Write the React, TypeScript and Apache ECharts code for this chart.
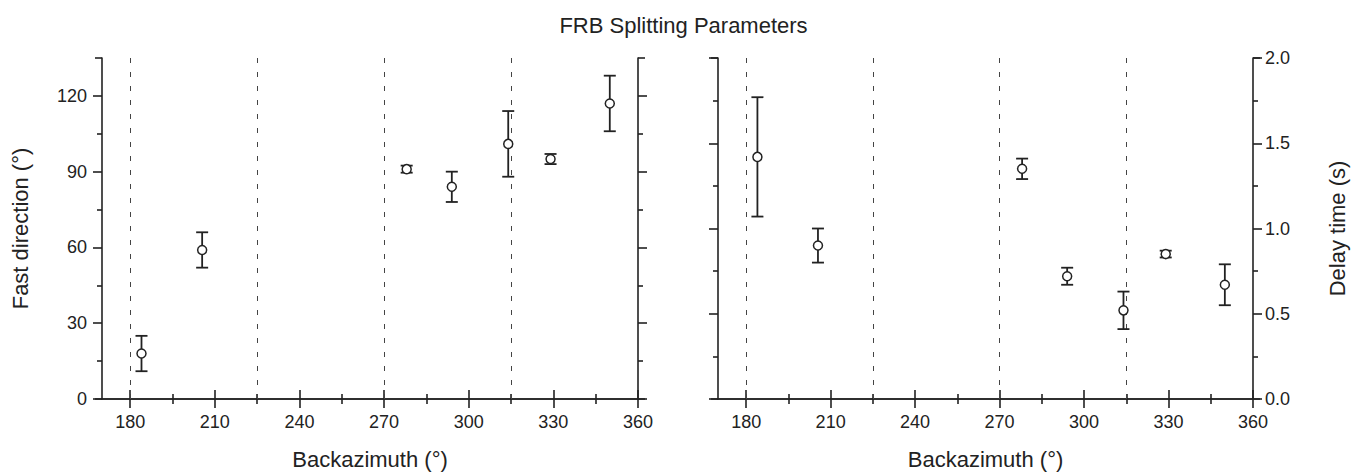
import React, { useEffect, useRef } from "react";
import * as echarts from "echarts";

// ---- data ----
const backazimuth = [184, 205.5, 278, 294, 314, 329, 350];
const fastDirection = [18, 59, 91, 84, 101, 95, 117];
const fastDirectionLow = [11, 52, 89.6, 78, 88, 93, 106];
const fastDirectionHigh = [25, 66, 92.4, 90, 114, 97, 128];
const delayTime = [1.42, 0.9, 1.35, 0.72, 0.52, 0.85, 0.67];
const delayTimeLow = [1.07, 0.8, 1.29, 0.67, 0.41, 0.83, 0.55];
const delayTimeHigh = [1.77, 1.0, 1.41, 0.77, 0.63, 0.87, 0.79];
const referenceAzimuths = [180, 225, 270, 315];
const xMajorTicks = [180, 210, 240, 270, 300, 330, 360];
const xMinorTicks = [195, 225, 255, 285, 315, 345];
const fastMajorTicks = [0, 30, 60, 90, 120];
const fastMinorTicks = [15, 45, 75, 105];
const delayMajorTicks = [0, 0.5, 1.0, 1.5, 2.0];
const delayMinorTicks = [0.25, 0.75, 1.25, 1.75];

// ---- layout ----
const W = 1367;
const H = 475;
const TOP = 58;
const GH = 341;
const GRIDS = [
  { left: 102, width: 536 },
  { left: 718, width: 535 },
];
const FONT = "'Liberation Sans', Arial, Helvetica, sans-serif";
const INK = "#222";
const LW = 1.6;
const MAJOR = 9;
const MINOR = 5;
const OVERHANG = 7;

function xAxesFor(gridIndex: number) {
  const base = {
    type: "value",
    gridIndex,
    min: 170,
    max: 360,
    splitLine: { show: false },
  };
  return [
    {
      ...base,
      position: "bottom",
      axisLine: { show: true, lineStyle: { color: INK, width: LW } },
      axisTick: { show: true, customValues: xMajorTicks, length: MAJOR, lineStyle: { color: INK, width: LW } },
      axisLabel: { show: true, customValues: xMajorTicks, fontSize: 18, color: INK, fontFamily: FONT, margin: 14 },
      name: "Backazimuth (°)",
      nameLocation: "middle",
      nameGap: 49,
      nameTextStyle: { fontSize: 22, color: INK, fontFamily: FONT },
    },
    {
      ...base,
      position: "bottom",
      axisLine: { show: false },
      axisTick: { show: true, customValues: xMinorTicks, length: MINOR, lineStyle: { color: INK, width: LW } },
      axisLabel: { show: false },
    },
    {
      ...base,
      position: "top",
      axisLine: { show: true, lineStyle: { color: INK, width: LW } },
      axisTick: { show: true, customValues: xMajorTicks, length: MAJOR, lineStyle: { color: INK, width: LW } },
      axisLabel: { show: false },
    },
    {
      ...base,
      position: "top",
      axisLine: { show: false },
      axisTick: { show: true, customValues: xMinorTicks, length: MINOR, lineStyle: { color: INK, width: LW } },
      axisLabel: { show: false },
    },
  ];
}

function yAxesFor(
  gridIndex: number,
  max: number,
  major: number[],
  minor: number[],
  labelSide: "left" | "right",
  name: string,
  fmt: (v: number) => string,
) {
  const base = {
    type: "value",
    gridIndex,
    min: 0,
    max,
    splitLine: { show: false },
  };
  const sides: ("left" | "right")[] = ["left", "right"];
  const out: any[] = [];
  sides.forEach((side) => {
    const labelled = side === labelSide;
    out.push({
      ...base,
      position: side,
      axisLine: { show: true, lineStyle: { color: INK, width: LW } },
      axisTick: { show: true, customValues: major, length: MAJOR, lineStyle: { color: INK, width: LW } },
      axisLabel: labelled
        ? {
            show: true,
            customValues: major,
            fontSize: 18,
            color: INK,
            fontFamily: FONT,
            margin: side === "left" ? 15 : 12,
            formatter: (v: number) => fmt(v),
          }
        : { show: false },
      ...(labelled
        ? {
            name,
            nameLocation: "middle",
            nameGap: side === "left" ? 71 : 73,
            nameTextStyle: { fontSize: 22, color: INK, fontFamily: FONT },
          }
        : {}),
    });
    out.push({
      ...base,
      position: side,
      axisLine: { show: false },
      axisTick: { show: true, customValues: minor, length: MINOR, lineStyle: { color: INK, width: LW } },
      axisLabel: { show: false },
    });
  });
  return out;
}

function errorBarSeries(xAxisIndex: number, yAxisIndex: number, lows: number[], highs: number[]) {
  return {
    type: "custom",
    xAxisIndex,
    yAxisIndex,
    z: 3,
    data: backazimuth.map((x, i) => [x, lows[i], highs[i]]),
    encode: { x: 0, y: [1, 2] },
    renderItem: (_params: any, api: any) => {
      const x = api.value(0);
      const lo = api.coord([x, api.value(1)]);
      const hi = api.coord([x, api.value(2)]);
      const hw = 6;
      const style = { stroke: INK, lineWidth: 1.8 };
      return {
        type: "group",
        children: [
          { type: "line", shape: { x1: lo[0], y1: lo[1], x2: hi[0], y2: hi[1] }, style },
          { type: "line", shape: { x1: lo[0] - hw, y1: lo[1], x2: lo[0] + hw, y2: lo[1] }, style },
          { type: "line", shape: { x1: hi[0] - hw, y1: hi[1], x2: hi[0] + hw, y2: hi[1] }, style },
        ],
      };
    },
  };
}

function pointSeries(xAxisIndex: number, yAxisIndex: number, values: number[]) {
  return {
    type: "scatter",
    xAxisIndex,
    yAxisIndex,
    z: 4,
    symbol: "circle",
    symbolSize: 9,
    itemStyle: { color: "#fff", borderColor: INK, borderWidth: 1.5, opacity: 1 },
    data: backazimuth.map((x, i) => [x, values[i]]),
    markLine: {
      silent: true,
      symbol: ["none", "none"],
      label: { show: false },
      z: 1,
      lineStyle: { color: "#444", width: 1, type: [5, 9] },
      data: referenceAzimuths.map((v) => ({ xAxis: v })),
    },
  };
}

function frameOverhangs() {
  const lines: any[] = [];
  GRIDS.forEach((g) => {
    [TOP, TOP + GH].forEach((y) => {
      lines.push({
        type: "line",
        shape: { x1: g.left - OVERHANG, y1: y, x2: g.left, y2: y },
        style: { stroke: INK, lineWidth: LW },
      });
      lines.push({
        type: "line",
        shape: { x1: g.left + g.width, y1: y, x2: g.left + g.width + OVERHANG, y2: y },
        style: { stroke: INK, lineWidth: LW },
      });
    });
  });
  return lines;
}

export default function App() {
  const ref = useRef<HTMLDivElement>(null);
  useEffect(() => {
    if (!ref.current) return;
    const chart = echarts.init(ref.current, undefined, { renderer: "svg" });
    const xAxis = [...xAxesFor(0), ...xAxesFor(1)];
    const yAxis = [
      ...yAxesFor(0, 135, fastMajorTicks, fastMinorTicks, "left", "Fast direction (°)", (v) => String(v)),
      ...yAxesFor(1, 2.0, delayMajorTicks, delayMinorTicks, "right", "Delay time (s)", (v) => v.toFixed(1)),
    ];
    chart.setOption({
      animation: false,
      backgroundColor: "#fff",
      textStyle: { fontFamily: FONT },
      title: {
        text: "FRB Splitting Parameters",
        left: "center",
        top: 9,
        textStyle: { fontSize: 22, fontWeight: "normal", color: INK, fontFamily: FONT },
      },
      grid: GRIDS.map((g) => ({ left: g.left, width: g.width, top: TOP, height: GH, containLabel: false })),
      xAxis,
      yAxis,
      series: [
        errorBarSeries(0, 0, fastDirectionLow, fastDirectionHigh),
        pointSeries(0, 0, fastDirection),
        errorBarSeries(4, 4, delayTimeLow, delayTimeHigh),
        pointSeries(4, 4, delayTime),
      ],
      graphic: frameOverhangs(),
    });
    return () => chart.dispose();
  }, []);
  return <div ref={ref} style={{ position: "absolute", left: 0, top: 0, width: W, height: H }} />;
}
